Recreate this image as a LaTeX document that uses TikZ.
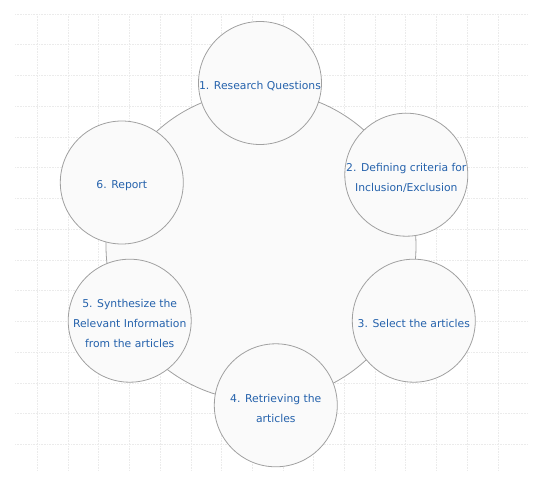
\documentclass[tikz,border=0pt]{standalone}
\usepackage{fontspec}
\setmainfont{DejaVu Sans}
\usepackage{tikz}
\usetikzlibrary{positioning}
\usepackage{xcolor}
\definecolor{stageblue}{HTML}{2562AC}
\definecolor{ringgray}{HTML}{A0A0A0}
\definecolor{ringfill}{HTML}{FAFAFA}
\definecolor{gridgray}{HTML}{EBEBEB}

\begin{document}
\begin{tikzpicture}[x=1pt, y=-1pt,
  stage/.style={circle, draw=ringgray, line width=0.8pt, fill=ringfill, minimum size=123pt, inner sep=0pt},
  stagetext/.style={align=center, text=stageblue, font={\fontsize{10.8}{20}\selectfont}, inner sep=0pt},
  gridline/.style={gridgray, densely dotted, line width=0.6pt}
]
  \useasboundingbox (0,0) rectangle (538,486);
  % background grid
  \foreach \k in {0,...,14}
    \draw[gridline] (15,14+30.75*\k) -- (528,14+30.75*\k);
  \foreach \k in {0,...,15}
    \draw[gridline] (37.3+30.7*\k,14) -- (37.3+30.7*\k,471);
  % cycle ring
  \node[circle, draw=ringgray, line width=0.8pt, fill=ringfill, minimum size=310pt, inner sep=0pt] (cycle) at (261,246) {};
  % stages
  \node[stage] (questions) at (260,83) {};
  \node[stage] (criteria) at (406.3,174.7) {};
  \node[stage] (select) at (413.8,320.7) {};
  \node[stage] (retrieve) at (275.8,405.3) {};
  \node[stage] (synthesize) at (129.7,320.7) {};
  \node[stage] (report) at (121.8,182.5) {};
  \node[stagetext, yshift=-3pt] (questionsText) at (questions) {1. Research Questions};
  \node[stagetext, yshift=-3pt] (criteriaText) at (criteria) {2. Defining criteria for\\Inclusion/Exclusion};
  \node[stagetext, yshift=-3pt] (selectText) at (select) {3. Select the articles};
  \node[stagetext, yshift=-3pt] (retrieveText) at (retrieve) {4. Retrieving the\\articles};
  \node[stagetext, yshift=-3pt] (synthesizeText) at (synthesize) {5. Synthesize the\\Relevant Information\\from the articles};
  \node[stagetext, yshift=-3pt] (reportText) at (report) {6. Report};
\end{tikzpicture}
\end{document}
